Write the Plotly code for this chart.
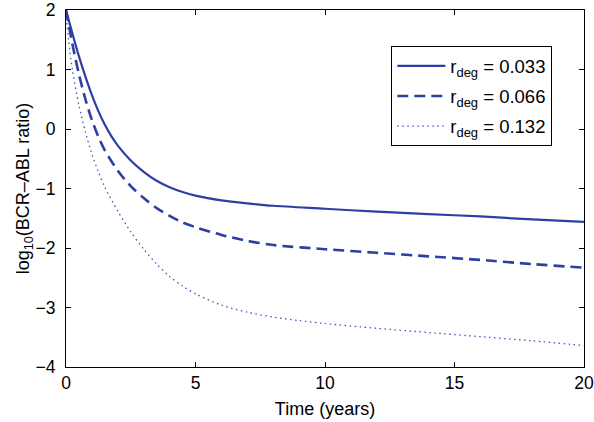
import plotly.graph_objects as go

# Data
t_033 = [0, 0.25, 0.5, 0.75, 1, 1.25, 1.5, 1.75, 2, 2.5, 3, 3.5, 4, 4.5, 5, 6, 7, 8, 10, 12, 14, 16, 18, 20]
y_033 = [2.0, 1.6, 1.22, 0.88, 0.57, 0.3, 0.07, -0.12, -0.28, -0.53, -0.72, -0.87, -0.98, -1.06, -1.12,
         -1.2, -1.25, -1.29, -1.34, -1.39, -1.43, -1.47, -1.52, -1.56]

t_066 = [0, 0.25, 0.5, 0.75, 1, 1.25, 1.5, 2, 2.5, 3, 3.5, 4, 4.5, 5, 6, 7, 8, 10, 12, 14, 16, 18, 20]
y_066 = [2.0, 1.42, 0.92, 0.5, 0.15, -0.13, -0.36, -0.7, -0.96, -1.16, -1.33, -1.46, -1.57, -1.65,
         -1.78, -1.88, -1.95, -2.02, -2.08, -2.14, -2.2, -2.27, -2.33]

t_132 = [0, 0.1, 0.25, 0.5, 0.75, 1, 1.25, 1.5, 2, 2.5, 3, 3.5, 4, 4.5, 5, 6, 7, 8, 9, 10, 12, 14, 16, 18, 20]
y_132 = [1.95, 1.5, 0.98, 0.4, -0.05, -0.42, -0.72, -0.98, -1.38, -1.73, -2.02, -2.27, -2.48, -2.64, -2.77,
         -2.96, -3.08, -3.16, -3.22, -3.27, -3.35, -3.42, -3.49, -3.56, -3.64]

labels = ["r<sub>deg</sub> = 0.033", "r<sub>deg</sub> = 0.066", "r<sub>deg</sub> = 0.132"]
x_ticks = [0, 5, 10, 15, 20]
y_ticks = [-4, -3, -2, -1, 0, 1, 2]

color = "#2d3fa3"
FONT = "Liberation Sans, Arial, Helvetica, sans-serif"

fig = go.Figure()
fig.add_trace(go.Scatter(x=t_033, y=y_033, mode="lines", name=labels[0], legendgroup="a",
                         line=dict(color=color, width=2.2, shape="spline", smoothing=0.8)))
fig.add_trace(go.Scatter(x=t_066, y=y_066, mode="lines", name=labels[1], legendgroup="b",
                         line=dict(color=color, width=2.6, dash="11px,6px", shape="spline", smoothing=0.8)))
fig.add_trace(go.Scatter(x=t_132, y=y_132, mode="lines", name=labels[2], legendgroup="c",
                         line=dict(color="#4456b8", width=1.3, dash="1.5px,3.5px", shape="spline", smoothing=0.8)))

axis_common = dict(
    showgrid=False, zeroline=False, showline=True, linecolor="black", linewidth=1,
    mirror="ticks", ticks="inside", ticklen=5, tickcolor="black", tickwidth=1,
    tickfont=dict(family=FONT, size=17.5, color="black"), automargin=False,
    ticklabeloverflow="allow",
)

fig.update_layout(
    width=594, height=422,
    margin=dict(l=66, r=10, t=10, b=55),
    paper_bgcolor="white", plot_bgcolor="white",
    font=dict(family=FONT, size=17, color="black"),
    showlegend=True,
    legend=dict(x=0.628, y=0.898, xanchor="left", yanchor="top",
                bordercolor="black", borderwidth=1, bgcolor="white",
                font=dict(family=FONT, size=18.5, color="black"),
                itemwidth=48, tracegroupgap=3),
    xaxis=dict(range=[0, 20], tickvals=x_ticks,
               title=dict(text="Time (years)", font=dict(family=FONT, size=18), standoff=10),
               **axis_common),
    yaxis=dict(range=[-4, 2], tickvals=y_ticks, ticklabelstandoff=6,
               title=dict(text="log<sub>10</sub>(BCR\u2013ABL ratio)", font=dict(family=FONT, size=18), standoff=0),
               **axis_common),
)

fig.write_html("out.html", config={"displayModeBar": False},
               post_script="document.body.style.margin='0';")
